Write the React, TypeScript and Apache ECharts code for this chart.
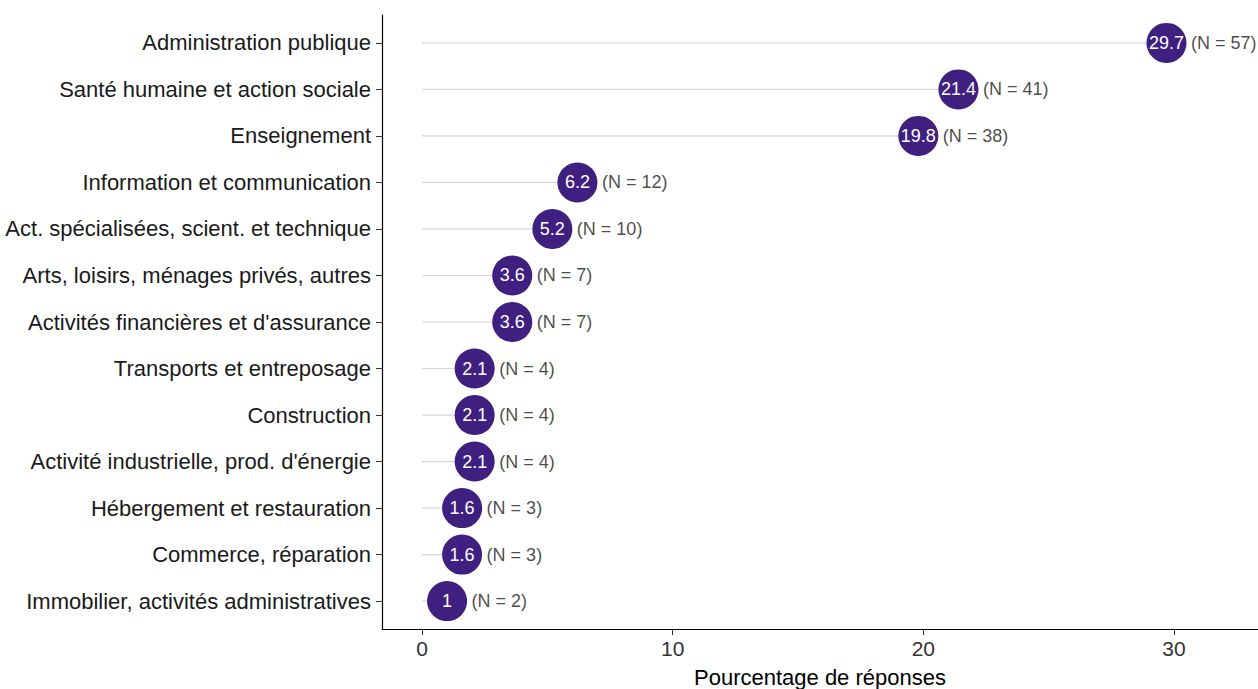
import React, { useEffect, useRef } from "react";
import * as echarts from "echarts";

const categories = [
  "Administration publique",
  "Santé humaine et action sociale",
  "Enseignement",
  "Information et communication",
  "Act. spécialisées, scient. et technique",
  "Arts, loisirs, ménages privés, autres",
  "Activités financières et d'assurance",
  "Transports et entreposage",
  "Construction",
  "Activité industrielle, prod. d'énergie",
  "Hébergement et restauration",
  "Commerce, réparation",
  "Immobilier, activités administratives",
];
const percents = [29.7, 21.4, 19.8, 6.2, 5.2, 3.6, 3.6, 2.1, 2.1, 2.1, 1.6, 1.6, 1];
const counts = [57, 41, 38, 12, 10, 7, 7, 4, 4, 4, 3, 3, 2];
const xTicks = [0, 10, 20, 30];

export default function App() {
  const ref = useRef<HTMLDivElement>(null);
  useEffect(() => {
    if (!ref.current) return;
    const chart = echarts.init(ref.current, null, { renderer: "svg" });
    const idx = categories.map((_, i) => i);
    const pts = percents.map((v, i) => [v, i, counts[i]]);
    chart.setOption({
      animation: false,
      grid: { left: 382, right: 0, top: 15, bottom: 60, outerBoundsMode: "none", containLabel: false },
      xAxis: {
        type: "value",
        min: -1.596,
        max: 33.35,
        name: "Pourcentage de réponses",
        nameLocation: "middle",
        nameGap: 37,
        nameTextStyle: { fontFamily: "Liberation Sans", fontSize: 22, color: "#000" },
        axisLine: { show: true, onZero: false, lineStyle: { color: "#000", width: 1.2 } },
        axisTick: { show: true, customValues: xTicks, length: 6, lineStyle: { color: "#333" } },
        axisLabel: {
          customValues: xTicks,
          fontFamily: "Liberation Sans",
          fontSize: 21,
          color: "#333",
          margin: 9,
        },
        splitLine: { show: false },
      },
      yAxis: {
        type: "value",
        inverse: true,
        min: -0.6,
        max: 12.6,
        axisLine: { show: true, onZero: false, lineStyle: { color: "#000", width: 1.2 } },
        axisTick: { show: true, customValues: idx, length: 6, lineStyle: { color: "#333" } },
        axisLabel: {
          customValues: idx,
          formatter: (v: number) => categories[Math.round(v)] ?? "",
          fontFamily: "Liberation Sans",
          fontSize: 22,
          color: "#1a1a1a",
          margin: 11,
        },
        splitLine: { show: false },
      },
      series: [
        {
          type: "custom",
          data: pts,
          renderItem: (params: any, api: any) => {
            const s = api.coord([0, api.value(1)]);
            const e = api.coord([api.value(0), api.value(1)]);
            return {
              type: "line",
              shape: { x1: s[0], y1: s[1], x2: e[0], y2: e[1] },
              style: { stroke: "#d6d6d6", lineWidth: 1.2 },
            };
          },
          z: 1,
        },
        {
          type: "scatter",
          data: pts,
          symbolSize: 40,
          itemStyle: { color: "#3f1f7f", opacity: 1 },
          label: {
            show: true,
            position: "inside",
            formatter: (p: any) => String(p.value[0]),
            color: "#fff",
            fontFamily: "Liberation Sans",
            fontSize: 18,
          },
          z: 3,
        },
        {
          type: "scatter",
          data: pts,
          symbolSize: 1,
          itemStyle: { color: "rgba(0,0,0,0)" },
          label: {
            show: true,
            position: "right",
            distance: 24,
            formatter: (p: any) => "(N = " + p.value[2] + ")",
            color: "#1a1a1a",
            fontFamily: "Liberation Sans",
            fontSize: 18,
          },
          z: 4,
        },
      ],
    });
    return () => chart.dispose();
  }, []);
  return (
    <div
      ref={ref}
      style={{ position: "fixed", left: 0, top: 0, width: 1258, height: 689, background: "#fff" }}
    />
  );
}
